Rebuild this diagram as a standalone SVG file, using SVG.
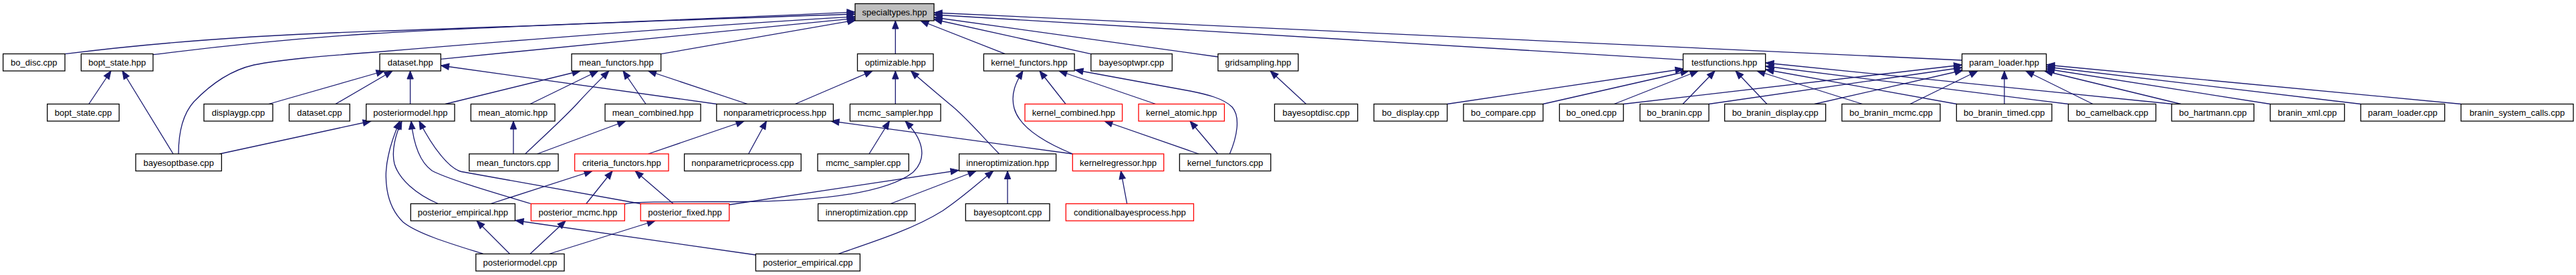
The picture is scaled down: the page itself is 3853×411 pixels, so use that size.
<svg xmlns="http://www.w3.org/2000/svg" width="3853" height="411" viewBox="0 0 3853 411">
<style>
.n rect{fill:#ffffff;stroke:#000000;stroke-width:1.3}
.n.red rect{stroke:#ff0000}
.n.root rect{fill:#bfbfbf}
.n text{font-family:"Liberation Sans",Arial,sans-serif;font-size:13px;fill:#000000;text-anchor:middle}
.e path{fill:none;stroke:#191970;stroke-width:1.3;marker-end:url(#ah)}
</style>
<defs>
<marker id="ah" markerUnits="userSpaceOnUse" markerWidth="13" markerHeight="10" refX="12" refY="5" orient="auto" viewBox="0 0 13 10" overflow="visible">
<path d="M0,0.3 L12,5 L0,9.7 z" fill="#191970" stroke="#191970" stroke-width="1"/>
</marker>
</defs>
<rect width="3853" height="411" fill="#ffffff"/>
<g id="edges" class="e">
<path d="M97,80.7 Q300,55 560,46.7 T1279,18"/>
<path d="M229,81.7 Q400,60 560,50 T1279,21"/>
<path d="M267,230 C267,200 272,172 290,152 C315,126 345,105 380,97 C420,89 480,84 560,78 C800,58 1100,35 1279,25"/>
<path d="M659.3,88.3 L1279,27.5"/>
<path d="M988.6,80.7 L1280,30"/>
<path d="M1339.3,80.5 L1339.3,31"/>
<path d="M1503.6,80.7 L1377,31"/>
<path d="M1631.8,80.7 L1397,29"/>
<path d="M1821.8,85 L1397,26"/>
<path d="M2517.5,89.3 L1397,22"/>
<path d="M2934.6,90 L1397,19"/>
<path d="M132.9,155.5 L166,106"/>
<path d="M259,230 L183,106"/>
<path d="M401.8,155.5 L575,106"/>
<path d="M501.8,155.5 L587,106"/>
<path d="M613.6,155.5 L613.6,106"/>
<path d="M1071.8,155.5 L659.5,98"/>
<path d="M328.6,230 L555,181"/>
<path d="M666,155.5 L868,106"/>
<path d="M792.9,155.5 L894.6,106"/>
<path d="M785.7,230 C815,202 845,175 865,153 C885,131 900,117 910.7,106"/>
<path d="M966,155.5 L932,106"/>
<path d="M1118,155.5 L969.6,106"/>
<path d="M767.9,230 L767.9,181"/>
<path d="M803.6,230 L935.7,181"/>
<path d="M969.6,230 L1113,181"/>
<path d="M1119.6,230 L1146.4,181"/>
<path d="M1604.3,230 L1243,181"/>
<path d="M1189.3,155.5 L1305,106"/>
<path d="M1339.3,155.5 L1339.3,106"/>
<path d="M1494.6,230 C1470,205 1445,175 1421,156 C1400,138 1380,122 1362.5,106"/>
<path d="M1300,230 L1330.4,181"/>
<path d="M934.3,305 C950,301 1000,301.5 1110,301.5 C1250,300 1330,285 1365,258 C1390,235 1378,205 1354,181"/>
<path d="M1090.7,306 L1434,254.5"/>
<path d="M1332,304.5 L1460,255.5"/>
<path d="M1507,304.5 L1507,255.5"/>
<path d="M1253.6,379.5 C1320,357 1370,340 1410,315 C1440,295 1465,272 1485.7,255.5"/>
<path d="M733.9,304.5 L886,255.5"/>
<path d="M876.8,304.5 L916,255.5"/>
<path d="M1007,304.5 L950,255.5"/>
<path d="M655.4,304.5 C622,290 597,268 590,245 C585,225 592,200 601,181"/>
<path d="M723,379.5 C680,366 625,350 603,332 C575,305 574,262 581,232 C585,212 592,195 598,181"/>
<path d="M794.3,304.5 C740,288 670,268 646,255 C625,240 618,210 615,181"/>
<path d="M958.2,304.5 L690,256.5 C672,252 648,222 627,181"/>
<path d="M762.5,379.5 L713,330"/>
<path d="M1130.4,381 L771,329.5"/>
<path d="M792.9,379.5 L846,330"/>
<path d="M821.4,379.5 L980,330"/>
<path d="M1604.3,230 C1560,212 1525,190 1517,162 C1511,140 1520,122 1530,106"/>
<path d="M1594,155.5 L1555,106"/>
<path d="M1728.6,155.5 L1584,106"/>
<path d="M1839.3,230 C1850,205 1856,175 1843,160 C1830,147 1805,141 1780,136 L1608,104.5"/>
<path d="M1792.9,230 L1652,181"/>
<path d="M1821.4,230 L1780,181"/>
<path d="M1685.7,304.5 L1676.5,255.5"/>
<path d="M1953.6,155.5 L1900,106"/>
<path d="M2164.6,155.5 L2518,103"/>
<path d="M2307.9,155.5 L2526,106"/>
<path d="M2414.3,155.5 L2540,106"/>
<path d="M2517,155.5 L2565,106"/>
<path d="M2642.9,155.5 L2596,106"/>
<path d="M2785.7,155.5 L2628,106"/>
<path d="M2926.8,155.5 L2641,104"/>
<path d="M3093.6,155.5 L2641,99"/>
<path d="M3250,155.5 L2641,94"/>
<path d="M2428.2,155.5 L2934.6,97"/>
<path d="M2556,155.5 L2934.6,101"/>
<path d="M2714,155.5 L2936,105"/>
<path d="M2857,155.5 L2958,106"/>
<path d="M2998,155.5 L2998,106"/>
<path d="M3130.4,155.5 L3030,106"/>
<path d="M3262,155.5 L3058,106"/>
<path d="M3395.6,155.5 L3061,103"/>
<path d="M3531,155.5 L3061,100"/>
<path d="M3681,155.5 L3061,97"/>
</g>
<g id="n_specialtypes_hpp" class="n root"><rect x="1279" y="5.5" width="118" height="25.5"/><text x="1338" y="23">specialtypes.hpp</text></g>
<g id="n_bo_disc_cpp" class="n"><rect x="4.6" y="80.5" width="92.5" height="25.5"/><text x="50.8" y="98">bo_disc.cpp</text></g>
<g id="n_bopt_state_hpp" class="n"><rect x="121.4" y="80.5" width="107.5" height="25.5"/><text x="175.2" y="98">bopt_state.hpp</text></g>
<g id="n_dataset_hpp" class="n"><rect x="568" y="80.5" width="91.3" height="25.5"/><text x="613.7" y="98">dataset.hpp</text></g>
<g id="n_mean_functors_hpp" class="n"><rect x="855" y="80.5" width="133.6" height="25.5"/><text x="921.8" y="98">mean_functors.hpp</text></g>
<g id="n_optimizable_hpp" class="n"><rect x="1282.5" y="80.5" width="113.5" height="25.5"/><text x="1339.3" y="98">optimizable.hpp</text></g>
<g id="n_kernel_functors_hpp" class="n"><rect x="1471.4" y="80.5" width="135.7" height="25.5"/><text x="1539.3" y="98">kernel_functors.hpp</text></g>
<g id="n_bayesoptwpr_cpp" class="n"><rect x="1631.8" y="80.5" width="121.4" height="25.5"/><text x="1692.5" y="98">bayesoptwpr.cpp</text></g>
<g id="n_gridsampling_hpp" class="n"><rect x="1821.8" y="80.5" width="120" height="25.5"/><text x="1881.8" y="98">gridsampling.hpp</text></g>
<g id="n_testfunctions_hpp" class="n"><rect x="2517.5" y="80.5" width="123.2" height="25.5"/><text x="2579.1" y="98">testfunctions.hpp</text></g>
<g id="n_param_loader_hpp" class="n"><rect x="2934.6" y="80.5" width="126.1" height="25.5"/><text x="2997.7" y="98">param_loader.hpp</text></g>
<g id="n_bopt_state_cpp" class="n"><rect x="70.7" y="155.5" width="107.5" height="25.5"/><text x="124.5" y="173">bopt_state.cpp</text></g>
<g id="n_displaygp_cpp" class="n"><rect x="305" y="155.5" width="103" height="25.5"/><text x="356.5" y="173">displaygp.cpp</text></g>
<g id="n_dataset_cpp" class="n"><rect x="432.5" y="155.5" width="90.7" height="25.5"/><text x="477.9" y="173">dataset.cpp</text></g>
<g id="n_posteriormodel_hpp" class="n"><rect x="547.7" y="155.5" width="132.3" height="25.5"/><text x="613.9" y="173">posteriormodel.hpp</text></g>
<g id="n_mean_atomic_hpp" class="n"><rect x="704.3" y="155.5" width="125.7" height="25.5"/><text x="767.2" y="173">mean_atomic.hpp</text></g>
<g id="n_mean_combined_hpp" class="n"><rect x="905" y="155.5" width="143" height="25.5"/><text x="976.5" y="173">mean_combined.hpp</text></g>
<g id="n_nonparametricprocess_hpp" class="n"><rect x="1071.8" y="155.5" width="174.6" height="25.5"/><text x="1159.1" y="173">nonparametricprocess.hpp</text></g>
<g id="n_mcmc_sampler_hpp" class="n"><rect x="1271.4" y="155.5" width="135.6" height="25.5"/><text x="1339.2" y="173">mcmc_sampler.hpp</text></g>
<g id="n_kernel_combined_hpp" class="n red"><rect x="1533" y="155.5" width="145.6" height="25.5"/><text x="1605.8" y="173">kernel_combined.hpp</text></g>
<g id="n_kernel_atomic_hpp" class="n red"><rect x="1703" y="155.5" width="128.4" height="25.5"/><text x="1767.2" y="173">kernel_atomic.hpp</text></g>
<g id="n_bayesoptdisc_cpp" class="n"><rect x="1906.4" y="155.5" width="124.3" height="25.5"/><text x="1968.6" y="173">bayesoptdisc.cpp</text></g>
<g id="n_bo_display_cpp" class="n"><rect x="2055" y="155.5" width="109.6" height="25.5"/><text x="2109.8" y="173">bo_display.cpp</text></g>
<g id="n_bo_compare_cpp" class="n"><rect x="2189" y="155.5" width="119" height="25.5"/><text x="2248.5" y="173">bo_compare.cpp</text></g>
<g id="n_bo_oned_cpp" class="n"><rect x="2332.5" y="155.5" width="95.7" height="25.5"/><text x="2380.4" y="173">bo_oned.cpp</text></g>
<g id="n_bo_branin_cpp" class="n"><rect x="2453" y="155.5" width="103" height="25.5"/><text x="2504.5" y="173">bo_branin.cpp</text></g>
<g id="n_bo_branin_display_cpp" class="n"><rect x="2579.6" y="155.5" width="151.1" height="25.5"/><text x="2655.2" y="173">bo_branin_display.cpp</text></g>
<g id="n_bo_branin_mcmc_cpp" class="n"><rect x="2755" y="155.5" width="147" height="25.5"/><text x="2828.5" y="173">bo_branin_mcmc.cpp</text></g>
<g id="n_bo_branin_timed_cpp" class="n"><rect x="2926.4" y="155.5" width="142.6" height="25.5"/><text x="2997.7" y="173">bo_branin_timed.cpp</text></g>
<g id="n_bo_camelback_cpp" class="n"><rect x="3093.6" y="155.5" width="131" height="25.5"/><text x="3159.1" y="173">bo_camelback.cpp</text></g>
<g id="n_bo_hartmann_cpp" class="n"><rect x="3248.2" y="155.5" width="123.1" height="25.5"/><text x="3309.8" y="173">bo_hartmann.cpp</text></g>
<g id="n_branin_xml_cpp" class="n"><rect x="3395.6" y="155.5" width="111.1" height="25.5"/><text x="3451.2" y="173">branin_xml.cpp</text></g>
<g id="n_param_loader_cpp" class="n"><rect x="3531" y="155.5" width="125.6" height="25.5"/><text x="3593.8" y="173">param_loader.cpp</text></g>
<g id="n_branin_system_calls_cpp" class="n"><rect x="3681" y="155.5" width="168" height="25.5"/><text x="3765" y="173">branin_system_calls.cpp</text></g>
<g id="n_bayesoptbase_cpp" class="n"><rect x="203" y="230" width="128.4" height="25.5"/><text x="267.2" y="247.5">bayesoptbase.cpp</text></g>
<g id="n_mean_functors_cpp" class="n"><rect x="701.8" y="230" width="133.2" height="25.5"/><text x="768.4" y="247.5">mean_functors.cpp</text></g>
<g id="n_criteria_functors_hpp" class="n red"><rect x="859.6" y="230" width="140.4" height="25.5"/><text x="929.8" y="247.5">criteria_functors.hpp</text></g>
<g id="n_nonparametricprocess_cpp" class="n"><rect x="1023.6" y="230" width="174.6" height="25.5"/><text x="1110.9" y="247.5">nonparametricprocess.cpp</text></g>
<g id="n_mcmc_sampler_cpp" class="n"><rect x="1223" y="230" width="136.3" height="25.5"/><text x="1291.2" y="247.5">mcmc_sampler.cpp</text></g>
<g id="n_inneroptimization_hpp" class="n"><rect x="1434.6" y="230" width="145" height="25.5"/><text x="1507.1" y="247.5">inneroptimization.hpp</text></g>
<g id="n_kernelregressor_hpp" class="n red"><rect x="1604.3" y="230" width="136.4" height="25.5"/><text x="1672.5" y="247.5">kernelregressor.hpp</text></g>
<g id="n_kernel_functors_cpp" class="n"><rect x="1764.3" y="230" width="136.4" height="25.5"/><text x="1832.5" y="247.5">kernel_functors.cpp</text></g>
<g id="n_posterior_empirical_hpp" class="n"><rect x="614.3" y="304.5" width="156.1" height="25.5"/><text x="692.4" y="322">posterior_empirical.hpp</text></g>
<g id="n_posterior_mcmc_hpp" class="n red"><rect x="794.3" y="304.5" width="140" height="25.5"/><text x="864.3" y="322">posterior_mcmc.hpp</text></g>
<g id="n_posterior_fixed_hpp" class="n red"><rect x="958.2" y="304.5" width="132.5" height="25.5"/><text x="1024.5" y="322">posterior_fixed.hpp</text></g>
<g id="n_inneroptimization_cpp" class="n"><rect x="1223.6" y="304.5" width="145.4" height="25.5"/><text x="1296.3" y="322">inneroptimization.cpp</text></g>
<g id="n_bayesoptcont_cpp" class="n"><rect x="1444.3" y="304.5" width="125.7" height="25.5"/><text x="1507.2" y="322">bayesoptcont.cpp</text></g>
<g id="n_conditionalbayesprocess_hpp" class="n red"><rect x="1594.3" y="304.5" width="191.1" height="25.5"/><text x="1689.9" y="322">conditionalbayesprocess.hpp</text></g>
<g id="n_posteriormodel_cpp" class="n"><rect x="711.8" y="379.5" width="132.2" height="25.5"/><text x="777.9" y="397">posteriormodel.cpp</text></g>
<g id="n_posterior_empirical_cpp" class="n"><rect x="1130.4" y="379.5" width="156" height="25.5"/><text x="1208.4" y="397">posterior_empirical.cpp</text></g>
</svg>
